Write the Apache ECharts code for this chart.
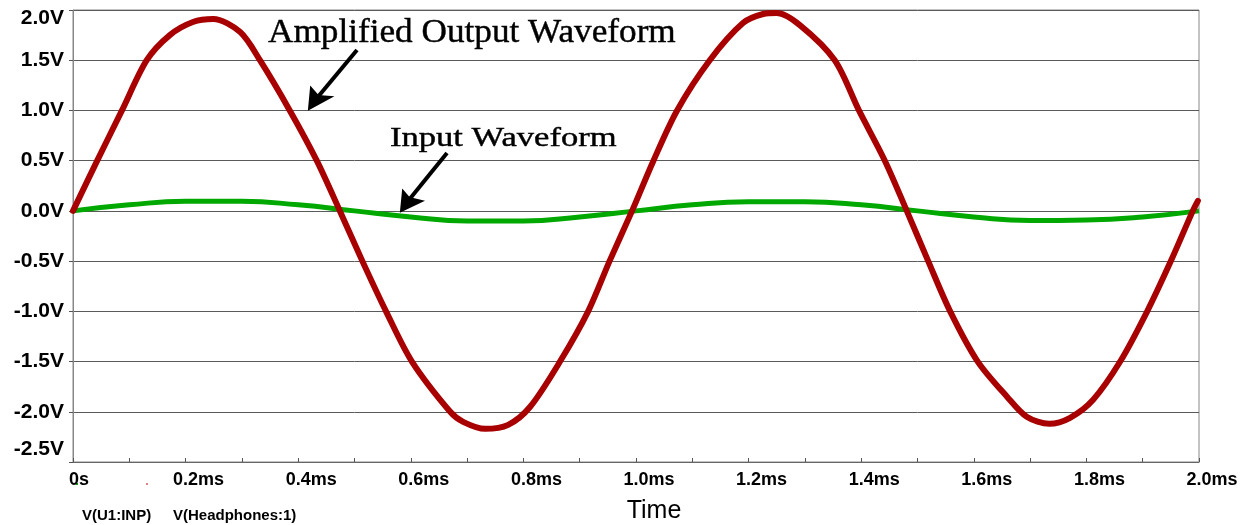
<!DOCTYPE html>
<html>
<head>
<meta charset="utf-8">
<script src="https://cdn.jsdelivr.net/npm/echarts@6/dist/echarts.min.js"></script>
<style>
html,body{margin:0;padding:0;background:#fff;}
#chart{width:1244px;height:525px;}
</style>
</head>
<body>
<div id="chart"></div>
<script>
// ---- data ----
var redTime  = [0, 0.043, 0.087, 0.131, 0.172, 0.213, 0.249, 0.297, 0.332, 0.385, 0.433, 0.474,
                0.514, 0.556, 0.602, 0.670, 0.693, 0.732, 0.773, 0.812, 0.865, 0.915, 0.953, 0.993,
                1.031, 1.073, 1.131, 1.190, 1.226, 1.250, 1.291, 1.353, 1.396, 1.442, 1.481,
                1.519, 1.558, 1.607, 1.659, 1.694, 1.734, 1.771, 1.812, 1.860, 1.908, 1.950, 1.989, 1.998];
var redVolts = [0, 0.5, 1.0, 1.5, 1.75, 1.88, 1.91, 1.78, 1.5, 1.0, 0.5, 0,
                -0.5, -1.0, -1.5, -2.0, -2.10, -2.17, -2.13, -1.95, -1.5, -1.0, -0.5, 0,
                0.5, 1.0, 1.5, 1.87, 1.96, 1.97, 1.85, 1.5, 1.0, 0.5, 0,
                -0.5, -1.0, -1.5, -1.85, -2.05, -2.12, -2.06, -1.88, -1.5, -1.0, -0.5, 0, 0.1];
var greenTime  = [0, 0.1, 0.2, 0.3, 0.4, 0.5, 0.6, 0.7, 0.8, 0.9, 1.0, 1.1, 1.2, 1.3, 1.4, 1.5, 1.6, 1.7, 1.8, 1.9, 2.0];
var greenVolts = [0, 0.06, 0.095, 0.095, 0.06, 0.0, -0.06, -0.10, -0.10, -0.06, 0.0, 0.06, 0.09, 0.09, 0.06, 0.0, -0.06, -0.095, -0.09, -0.06, 0.0];
var seriesNames = ['V(U1:INP)', 'V(Headphones:1)'];
var xAxisTitle = 'Time';
var annotations = ['Amplified Output Waveform', 'Input Waveform'];

function pairs(t, v){ return t.map(function(x,i){ return [x, v[i]]; }); }

var chart = echarts.init(document.getElementById('chart'), null, {renderer:'canvas'});

var Y_MIN = -2.5, Y_MAX = 2.0;
var SANS = 'Liberation Sans, Arial, sans-serif';
var SERIF = 'Liberation Serif, Times New Roman, serif';

var option = {
  animation: false,
  backgroundColor: '#ffffff',
  grid: {left: 73, right: 45, top: 10, bottom: 63, show: true, borderColor: '#888888', borderWidth: 1},
  xAxis: {
    type: 'value', min: 0, max: 2.0, interval: 0.2,
    axisLine: {show: true, onZero: false, lineStyle: {color: '#666666', width: 1}},
    axisTick: {show: true, inside: true, length: 4, lineStyle: {color: '#555555'}},
    minorTick: {show: true, splitNumber: 2, length: 4, lineStyle: {color: '#555555'}},
    splitLine: {show: false},
    minorSplitLine: {show: false},
    axisLabel: {
      color: '#000000', fontSize: 18, fontWeight: 'bold', fontFamily: SANS,
      margin: 9, padding: [0, 0, 0, 26],
      formatter: function(v){ return v === 0 ? '{z|0s}' : v.toFixed(1) + 'ms'; },
      rich: {
        z: {fontSize: 18, fontWeight: 'bold', color: '#000', fontFamily: SANS, padding: [0, 14, 0, 0]}
      }
    }
  },
  yAxis: {
    type: 'value', min: Y_MIN, max: Y_MAX, interval: 0.5,
    axisLine: {show: true, onZero: false, lineStyle: {color: '#888888', width: 1}},
    axisTick: {show: true, length: 4, lineStyle: {color: '#555555'}},
    splitLine: {show: true, lineStyle: {color: '#5a5a5a', width: 1}},
    axisLabel: {
      color: '#000000', fontSize: 21, fontWeight: 'bold', fontFamily: SANS,
      margin: 9,
      formatter: function(v){
        var s = v.toFixed(1) + 'V';
        if (Math.abs(v - Y_MAX) < 1e-9) return '{t|' + s + '}';
        if (Math.abs(v - Y_MIN) < 1e-9) return '{b|' + s + '}';
        return s;
      },
      rich: {
        t: {fontSize: 21, fontWeight: 'bold', color: '#000', fontFamily: SANS, padding: [16, 0, 0, 0]},
        b: {fontSize: 21, fontWeight: 'bold', color: '#000', fontFamily: SANS, padding: [0, 0, 26, 0]}
      }
    }
  },
  series: [
    {
      name: seriesNames[0], type: 'line', data: pairs(greenTime, greenVolts),
      smooth: true, showSymbol: false, symbol: 'none',
      lineStyle: {color: '#00a800', width: 5}, z: 2
    },
    {
      name: seriesNames[1], type: 'line', data: pairs(redTime, redVolts),
      smooth: 0.3, showSymbol: false, symbol: 'none',
      lineStyle: {color: '#a80000', width: 6, join: 'round', cap: 'round'}, z: 3
    }
  ],
  graphic: [
    {type: 'text', x: 654, y: 511, style: {text: xAxisTitle, fontSize: 25, fontFamily: SANS, fill: '#000', align: 'center', verticalAlign: 'middle'}},
    {type: 'text', x: 82, y: 516, style: {text: seriesNames[0], fontSize: 15, fontWeight: 'bold', fontFamily: SANS, fill: '#000', align: 'left', verticalAlign: 'middle'}},
    {type: 'text', x: 173, y: 516, style: {text: seriesNames[1], fontSize: 15, fontWeight: 'bold', fontFamily: SANS, fill: '#000', align: 'left', verticalAlign: 'middle'}},
    {type: 'rect', shape: {x: 76, y: 483, width: 2, height: 2}, style: {fill: '#00a800'}},
    {type: 'rect', shape: {x: 146, y: 483, width: 2, height: 2}, style: {fill: '#e08080'}},
    {type: 'text', x: 268, y: 33, scaleX: 1.1, scaleY: 1.05, style: {text: annotations[0], fontSize: 32, fontFamily: SERIF, fill: '#000', stroke: '#000', lineWidth: 0.4, align: 'left', verticalAlign: 'middle'}, z: 10},
    {type: 'text', x: 390, y: 139, scaleX: 1.28, style: {text: annotations[1], fontSize: 27, fontFamily: SERIF, fill: '#000', stroke: '#000', lineWidth: 0.4, align: 'left', verticalAlign: 'middle'}, z: 10},
    {type: 'polyline', shape: {points: [[357, 50], [312, 104]]}, style: {stroke: '#000', lineWidth: 4, fill: null}, z: 10},
    {type: 'polygon', shape: {points: [[309, 109], [311, 88], [318, 96], [331, 97]]}, style: {fill: '#000', stroke: '#000', lineWidth: 2}, z: 10},
    {type: 'polyline', shape: {points: [[447, 153], [404, 206]]}, style: {stroke: '#000', lineWidth: 4, fill: null}, z: 10},
    {type: 'polygon', shape: {points: [[401, 211], [403, 191], [409, 198], [422, 201]]}, style: {fill: '#000', stroke: '#000', lineWidth: 2}, z: 10}
  ]
};
chart.setOption(option);
</script>
</body>
</html>
